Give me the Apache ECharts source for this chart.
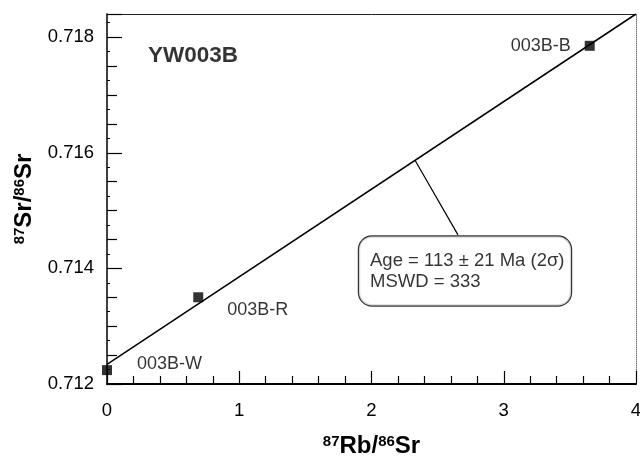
<!DOCTYPE html>
<html>
<head>
<meta charset="utf-8">
<script src="https://cdn.jsdelivr.net/npm/echarts@6/dist/echarts.min.js"></script>
<style>html,body{margin:0;padding:0;background:#fff}#c{width:640px;height:457px}</style>
</head>
<body>
<div id="c"></div>
<script>
// ---- data ----
var sampleNames = ['003B-W', '003B-R', '003B-B'];
var rbSr = [0.0, 0.69, 3.65];          // 87Rb/86Sr
var srSr = [0.71224, 0.71350, 0.71785]; // 87Sr/86Sr
var isochronX = [0, 4];
var isochronY = [0.71234, 0.71840];
var xTicks = [0, 1, 2, 3, 4];
var yTicks = [0.712, 0.714, 0.716, 0.718];
var sampleTitle = 'YW003B';
var resultLines = ['Age = 113 \u00b1 21 Ma (2\u03c3)', 'MSWD = 333'];
var leaderX = [2.329, 2.654];
var leaderY = [0.71587, 0.71458];
var boxAnchor = [1.9055, 0.713955];
var titleAnchor = [0.31, 0.71767];

var FONT = 'Liberation Sans, Arial, sans-serif';
var xMin = xTicks[0], xMax = xTicks[xTicks.length - 1];
var yMin = yTicks[0], yMax = 0.7184;

var labelOffsets = [[35, -1], [34, 18], null];

var pts = rbSr.map(function (x, i) {
  var lab = { show: true, formatter: sampleNames[i], fontFamily: FONT, fontSize: 18, color: '#000' };
  if (labelOffsets[i]) { lab.position = labelOffsets[i]; lab.align = 'left'; lab.verticalAlign = 'middle'; }
  else { lab.position = 'left'; lab.distance = 14; }
  return { value: [x, srSr[i]], label: lab };
});

var nameRich = {
  sup: { fontFamily: FONT, fontSize: 15, fontWeight: 'bold', verticalAlign: 'top', lineHeight: 25, color: '#000' },
  b: { fontFamily: FONT, fontSize: 24, fontWeight: 'bold', lineHeight: 25, color: '#000' }
};

var chart = echarts.init(document.getElementById('c'));
chart.setOption({
  animation: false,
  backgroundColor: '#fff',
  grid: { left: 107, right: 4, top: 14, bottom: 73, containLabel: false, outerBoundsMode: 'none' },
  xAxis: [{
    type: 'value', min: xMin, max: xMax, interval: 1,
    axisLine: { show: true, onZero: false, lineStyle: { color: '#000', width: 2 } },
    axisTick: { show: true, inside: true, length: 13, lineStyle: { color: '#000', width: 1.2 } },
    minorTick: { show: true, splitNumber: 5, length: 8, lineStyle: { color: '#000', width: 1.2 } },
    splitLine: { show: false },
    axisLabel: { margin: 17, fontFamily: FONT, fontSize: 18.5, color: '#000' },
    name: '{sup|87}{b|Rb/}{sup|86}{b|Sr}', nameLocation: 'middle', nameGap: 50,
    nameTextStyle: { rich: nameRich }
  }, {
    type: 'value', min: xMin, max: xMax, position: 'top',
    axisLine: { show: true, onZero: false, lineStyle: { color: '#222', width: 1 } },
    axisTick: { show: false }, axisLabel: { show: false }, splitLine: { show: false }
  }],
  yAxis: [{
    type: 'value', min: yMin, max: yMax, interval: 0.002,
    axisLine: { show: true, onZero: false, lineStyle: { color: '#000', width: 1.5 } },
    axisTick: { show: true, inside: true, length: 15, lineStyle: { color: '#000', width: 1.2 } },
    minorTick: { show: true, splitNumber: 4, length: 10, lineStyle: { color: '#000', width: 1.2 } },
    splitLine: { show: false },
    axisLabel: { margin: 13, fontFamily: FONT, fontSize: 18.5, color: '#000', showMaxLabel: false,
      formatter: function (v) { return v.toFixed(3); } },
    name: '{sup|87}{b|Sr/}{sup|86}{b|Sr}', nameLocation: 'middle', nameGap: 69, nameRotate: 90,
    nameTextStyle: { rich: nameRich }
  }, {
    type: 'value', min: yMin, max: yMax, interval: 0.00025, position: 'left',
    axisLine: { show: false },
    axisTick: { show: true, inside: true, length: 3, lineStyle: { color: '#000', width: 1 } },
    axisLabel: { show: false }, splitLine: { show: false }
  }, {
    type: 'value', min: yMin, max: yMax, position: 'right',
    axisLine: { show: true, onZero: false, lineStyle: { color: '#777', width: 1, type: 'dotted' } },
    axisTick: { show: false }, axisLabel: { show: false }, splitLine: { show: false }
  }],
  series: [{
    type: 'line', name: 'isochron', xAxisIndex: 0, yAxisIndex: 0,
    data: isochronX.map(function (x, i) { return [x, isochronY[i]]; }),
    symbol: 'none', lineStyle: { color: '#000', width: 1.5 }, clip: true, z: 2
  }, {
    type: 'line', name: 'leader', xAxisIndex: 0, yAxisIndex: 0,
    data: leaderX.map(function (x, i) { return [x, leaderY[i]]; }),
    symbol: 'none', lineStyle: { color: '#000', width: 1.2 }, z: 2
  }, {
    type: 'scatter', name: 'samples', xAxisIndex: 0, yAxisIndex: 0,
    symbol: 'rect', symbolSize: 10, itemStyle: { color: '#000' },
    data: pts, clip: false, z: 5
  }, {
    type: 'scatter', name: 'resultBox', xAxisIndex: 0, yAxisIndex: 0,
    symbolSize: 0, silent: true, z: 6,
    data: [{ value: boxAnchor }],
    label: { show: true, position: 'right', distance: 0, align: 'left', verticalAlign: 'middle',
      formatter: resultLines.join('\n'), fontFamily: FONT, fontSize: 18.5, lineHeight: 21, color: '#000',
      width: 197, padding: [15, 4, 12, 11], backgroundColor: '#fff',
      borderColor: '#000', borderWidth: 1.2, borderRadius: 13 }
  }, {
    type: 'scatter', name: 'title', xAxisIndex: 0, yAxisIndex: 0,
    symbolSize: 0, silent: true,
    data: [{ value: titleAnchor }],
    label: { show: true, position: 'right', distance: 0, align: 'left', verticalAlign: 'middle',
      formatter: sampleTitle, fontFamily: FONT, fontSize: 22.5, fontWeight: 'bold', color: '#000' }
  }]
});
</script>
</body>
</html>
